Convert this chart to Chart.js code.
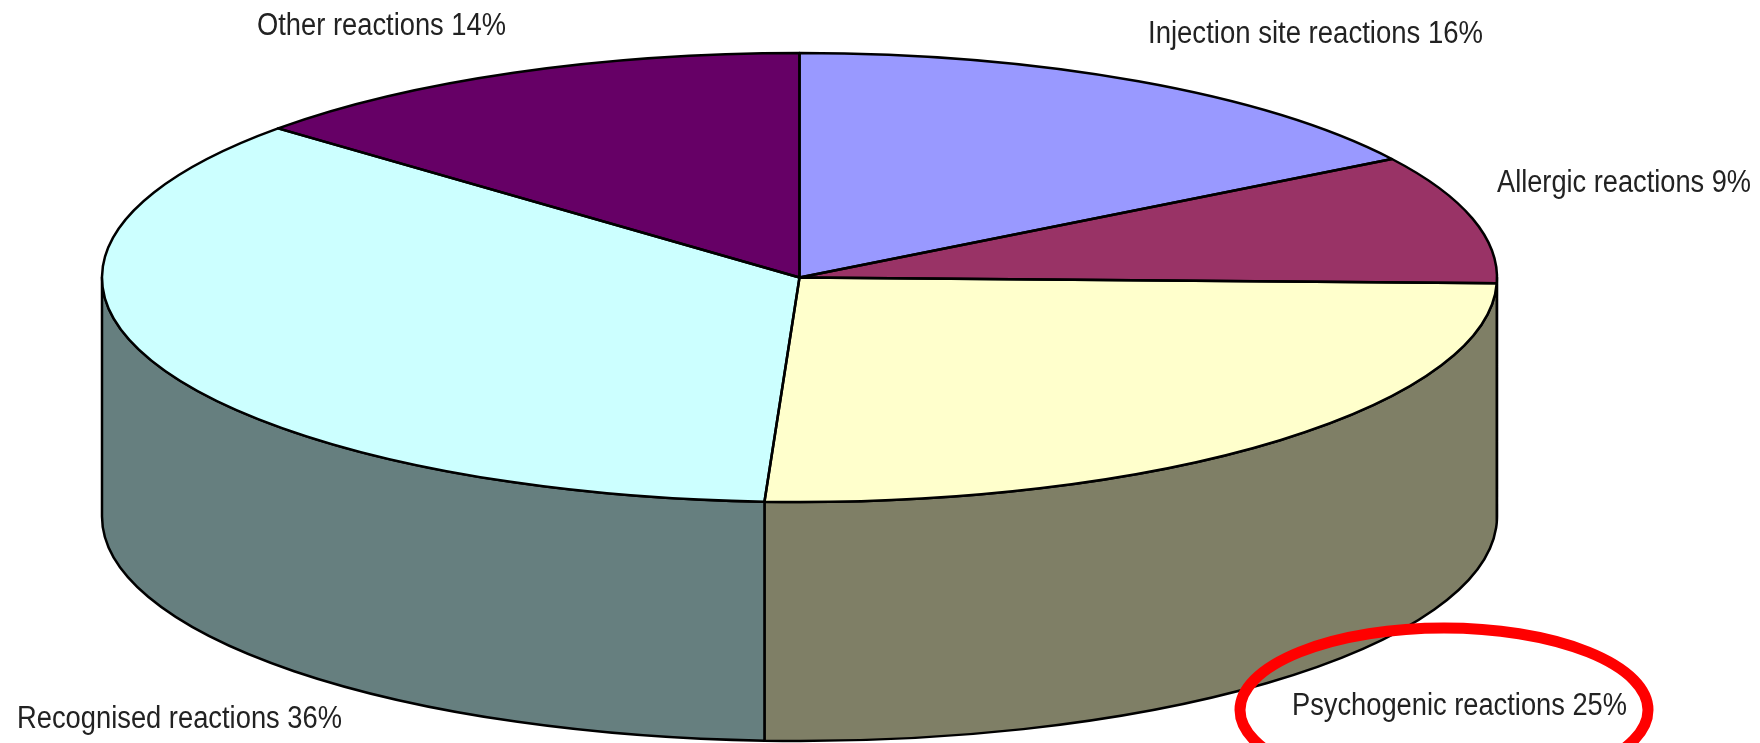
<!DOCTYPE html>
<html>
<head>
<meta charset="utf-8">
<style>html,body{margin:0;padding:0;background:#fff;overflow:hidden}canvas{display:block}</style>
<script src="https://cdn.jsdelivr.net/npm/chart.js@4"></script>
</head>
<body>
<canvas id="c" width="1760" height="743"></canvas>
<script>
const categories = ["Injection site reactions", "Allergic reactions", "Psychogenic reactions", "Recognised reactions", "Other reactions"];
const values = [16.15, 9.25, 25.4, 35.76, 13.44];
const percentLabels = ["16%", "9%", "25%", "36%", "14%"];
const topColors = ["#9999FF", "#993366", "#FFFFCC", "#CCFFFF", "#660066"];
const sideColors = ["#4C4C7F", "#4C1933", "#7F7F66", "#667F7F", "#330033"];

const RADIUS = 697.5, FLATTEN = 224.5 / 697.5, DEPTH = 239;
const labelBoxes = [
  {x: 1148, base: 43, w: 335},
  {x: 1497, base: 192, w: 254},
  {x: 1292, base: 715, w: 335},
  {x: 17, base: 728, w: 325},
  {x: 257, base: 35, w: 249}
];

const pie3d = {
  id: "pie3d",
  beforeDatasetsDraw(chart) {
    const ctx = chart.ctx, arcs = chart.getDatasetMeta(0).data;
    arcs.forEach((a, i) => {
      const s = Math.max(a.startAngle, 0), e = Math.min(a.endAngle, Math.PI);
      if (e <= s) return;
      const ry = a.outerRadius * FLATTEN;
      ctx.beginPath();
      ctx.ellipse(a.x, a.y, a.outerRadius, ry, 0, s, e);
      ctx.ellipse(a.x, a.y + DEPTH, a.outerRadius, ry, 0, e, s, true);
      ctx.closePath();
      ctx.fillStyle = sideColors[i];
      ctx.strokeStyle = "#000";
      ctx.lineWidth = 2.5;
      ctx.lineJoin = "round";
      ctx.fill();
      ctx.stroke();
    });
    const a0 = arcs[0];
    ctx.save();
    ctx.translate(a0.x, a0.y);
    ctx.scale(1, FLATTEN);
    ctx.translate(-a0.x, -a0.y);
  },
  afterDatasetsDraw(chart) {
    const ctx = chart.ctx, arcs = chart.getDatasetMeta(0).data;
    ctx.restore();
    arcs.forEach(a => {
      ctx.beginPath();
      ctx.moveTo(a.x, a.y);
      ctx.ellipse(a.x, a.y, a.outerRadius, a.outerRadius * FLATTEN, 0, a.startAngle, a.endAngle);
      ctx.closePath();
      ctx.strokeStyle = "#000";
      ctx.lineWidth = 2.5;
      ctx.lineJoin = "round";
      ctx.stroke();
    });
    ctx.fillStyle = "#222222";
    ctx.font = "31px 'Liberation Sans', Arial, sans-serif";
    ctx.textAlign = "left";
    ctx.textBaseline = "alphabetic";
    categories.forEach((name, i) => {
      const b = labelBoxes[i];
      ctx.fillText(name + " " + percentLabels[i], b.x, b.base, b.w);
    });
    ctx.beginPath();
    ctx.ellipse(1444, 710, 204, 82, 0, 0, Math.PI * 2);
    ctx.strokeStyle = "#FF0000";
    ctx.lineWidth = 11;
    ctx.stroke();
  }
};

new Chart(document.getElementById("c"), {
  type: "pie",
  data: {
    labels: categories,
    datasets: [{data: values, backgroundColor: topColors, borderWidth: 0, clip: false}]
  },
  options: {
    responsive: false,
    animation: false,
    radius: RADIUS,
    layout: {padding: {right: 161, bottom: 188}},
    plugins: {legend: {display: false}, tooltip: {enabled: false}, title: {display: false}}
  },
  plugins: [pie3d]
});
</script>
</body>
</html>
